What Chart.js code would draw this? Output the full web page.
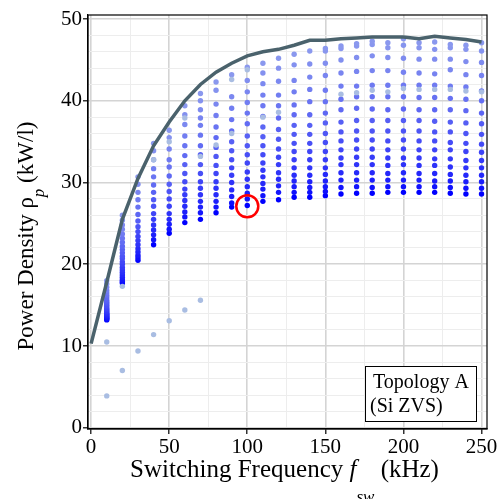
<!DOCTYPE html>
<html>
<head>
<meta charset="utf-8">
<script src="https://cdn.jsdelivr.net/npm/chart.js@4.4.1/dist/chart.umd.min.js"></script>
<style>
  html, body { margin: 0; padding: 0; background: #fff; }
  #wrap { width: 502px; height: 499px; }
</style>
</head>
<body>
<div id="wrap"><canvas id="myChart" width="502" height="499"></canvas></div>
<script>
// Switching frequencies of the design sweep (kHz)
const freqs = [10, 20, 30, 40, 50, 60, 70, 80, 90, 100, 110, 120, 130, 140, 150, 160, 170, 180, 190, 200, 210, 220, 230, 240, 250];

// Power density of every design at each frequency (kW/l)
const rho10 = [13.2, 13.3, 13.4, 13.5, 13.6, 13.7, 13.8, 13.9, 14.0, 14.15, 14.3, 14.45, 14.6, 14.8, 15.0, 15.2, 15.4, 15.6, 15.9, 16.2, 16.5, 16.8, 17.2, 17.6, 18.0];
const rho20 = [17.7, 17.9, 18.1, 18.4, 18.7, 19.0, 19.3, 19.6, 20.0, 20.3, 20.7, 21.0, 21.4, 21.8, 22.2, 22.7, 23.2, 23.7, 24.3, 24.8, 25.4, 26.0];
const rho30 = [20.5, 20.8, 21.1, 21.5, 21.9, 22.4, 22.9, 23.4, 24.0, 24.6, 25.3, 26.1, 27.0, 27.9, 28.8, 29.8, 30.7];
const rho40 = [22.4, 23.0, 23.6, 24.2, 24.8, 25.5, 26.2, 27.1, 27.9, 28.8, 29.7, 30.7, 31.7, 32.8, 33.9, 34.8];
const rho50 = [23.8, 24.3, 24.9, 25.5, 26.2, 27.1, 28.0, 28.9, 29.8, 30.8, 31.9, 32.8, 34.1, 35.5, 36.4];
const rho60 = [25.1, 25.8, 26.4, 27.1, 27.8, 28.5, 29.2, 30.1, 31.1, 32.2, 33.3, 34.5, 35.7, 37.1, 38.3, 39.4];
const rho70 = [25.5, 26.3, 27.0, 27.7, 28.5, 29.3, 30.1, 31.1, 32.2, 33.4, 34.5, 35.8, 37.0, 37.9, 38.9, 40.0, 40.9];
const rho80 = [26.3, 27.0, 27.7, 28.5, 29.3, 30.1, 31.1, 32.1, 33.2, 34.3, 35.5, 36.8, 38.2, 39.6, 41.3, 42.3];
const rho90 = [27.0, 27.5, 28.3, 29.1, 30.0, 30.9, 31.8, 32.8, 33.9, 35.0, 36.3, 37.7, 39.1, 40.5, 43.2];
const rho100 = [27.2, 28.0, 28.7, 29.5, 30.4, 31.3, 32.4, 33.4, 34.5, 35.7, 37.2, 38.5, 39.8, 41.1, 42.5, 44.1];
const rho110 = [27.7, 28.4, 29.2, 29.9, 30.7, 31.5, 32.4, 33.4, 34.5, 35.6, 36.8, 38.1, 39.4, 40.7, 42.1, 43.4, 44.6];
const rho120 = [27.9, 28.8, 29.6, 30.4, 31.2, 32.2, 33.1, 34.1, 35.3, 36.5, 37.9, 39.4, 40.7, 42.4, 44.0, 45.2];
const rho130 = [28.2, 28.8, 29.5, 30.2, 30.9, 31.8, 32.8, 33.8, 34.8, 35.9, 37.0, 38.3, 39.5, 41.1, 42.5, 44.4, 45.7];
const rho140 = [28.2, 28.8, 29.4, 30.1, 30.9, 31.8, 32.8, 33.8, 34.8, 35.9, 37.0, 38.3, 39.9, 41.4, 42.9, 44.5, 46.1];
const rho150 = [28.4, 28.9, 29.5, 30.2, 31.0, 31.8, 32.8, 33.8, 34.9, 36.0, 37.3, 38.5, 39.9, 41.3, 43.1, 44.6, 46.1, 46.4];
const rho160 = [28.6, 29.4, 30.3, 31.2, 32.2, 33.0, 34.0, 35.1, 36.2, 37.4, 38.9, 40.2, 41.8, 43.4, 45.0, 46.4, 46.7];
const rho170 = [28.7, 29.5, 30.3, 31.2, 32.2, 33.1, 34.1, 35.2, 36.3, 37.6, 39.1, 40.5, 41.8, 43.6, 45.3, 46.7, 47.0];
const rho180 = [28.7, 29.4, 30.3, 31.2, 32.2, 33.1, 34.1, 35.2, 36.3, 37.6, 39.0, 40.5, 41.9, 43.7, 45.5, 46.9, 47.3];
const rho190 = [28.8, 29.5, 30.3, 31.1, 32.1, 33.0, 34.0, 35.1, 36.3, 37.6, 38.9, 40.5, 41.9, 43.7, 45.3, 46.5, 47.1];
const rho200 = [28.8, 29.5, 30.3, 31.2, 32.2, 33.0, 34.1, 35.2, 36.3, 37.6, 39.0, 40.5, 41.9, 43.5, 45.2, 46.8, 47.6];
const rho210 = [28.8, 29.5, 30.3, 31.1, 32.1, 33.0, 34.0, 35.1, 36.3, 37.6, 38.9, 40.4, 41.9, 43.4, 45.1, 46.5, 47.1];
const rho220 = [28.8, 29.5, 30.2, 31.1, 32.1, 32.9, 34.0, 35.1, 36.2, 37.5, 38.9, 40.4, 41.9, 43.3, 45.1, 46.3, 47.2];
const rho230 = [28.7, 29.4, 30.2, 31.0, 31.9, 32.9, 34.0, 34.9, 36.2, 37.4, 38.9, 40.3, 41.8, 43.8, 45.1, 46.5, 46.9];
const rho240 = [28.6, 29.3, 30.1, 30.9, 31.8, 32.7, 33.8, 34.8, 36.0, 37.3, 38.8, 40.2, 41.7, 43.2, 44.8, 46.3, 46.8];
const rho250 = [28.6, 29.3, 30.1, 30.9, 31.8, 32.7, 33.7, 34.7, 35.9, 37.2, 38.5, 40.0, 41.2, 43.1, 44.7, 46.1, 47.1];
const rhoByFreq = [rho10, rho20, rho30, rho40, rho50, rho60, rho70, rho80, rho90, rho100, rho110, rho120, rho130,
  rho140, rho150, rho160, rho170, rho180, rho190, rho200, rho210, rho220, rho230, rho240, rho250];

// Greyed-out designs
const greyF = [10, 10, 20, 30, 40, 50, 60, 70, 20, 40, 50, 60, 70, 80, 90, 90, 100, 110, 120, 160, 170, 180, 190, 200, 210, 220, 230, 240, 250];
const greyRho = [10.5, 3.9, 7.0, 9.4, 11.4, 13.1, 14.4, 15.6, 17.3, 32.8, 35.0, 37.9, 33.2, 34.6, 42.6, 36.0, 43.8, 38.0, 38.6, 40.8, 41.0, 41.3, 41.1, 41.5, 41.4, 41.4, 41.4, 41.2, 41.1];

// Pareto front (max power density)
const frontF = [0, 10, 20, 30, 40, 50, 60, 70, 80, 90, 100, 110, 120, 130, 140, 150, 160, 170, 180, 190, 200, 210, 220, 230, 240, 250];
const frontRho = [10.3, 17.8, 25.5, 30.5, 34.5, 37.4, 40.0, 42.0, 43.5, 44.6, 45.5, 46.0, 46.3, 46.8, 47.4, 47.4, 47.6, 47.7, 47.8, 47.8, 47.8, 47.6, 47.9, 47.7, 47.5, 47.2];

// Selected design
const markF = [100];
const markRho = [27.1];

// Axis tick labels
const xTicks = [0, 50, 100, 150, 200, 250];
const yTicks = [0, 10, 20, 30, 40, 50];

const serif = "'Liberation Serif', 'Times New Roman', serif";

// build point lists
let designPts = [];
freqs.forEach((f, i) => rhoByFreq[i].forEach(r => designPts.push({x: f, y: r})));
let greyPts = greyF.map((f, i) => ({x: f, y: greyRho[i]}));
let frontPts = frontF.map((f, i) => ({x: f, y: frontRho[i]}));
let markPts = markF.map((f, i) => ({x: f, y: markRho[i]}));

// colour goes from pure blue (bottom of a column) to pale blue (top)
let colRange = {};
freqs.forEach((f, i) => {
  colRange[f] = [Math.min(...rhoByFreq[i]), Math.max(...rhoByFreq[i])];
});
function dotColor(c) {
  let p = c.raw;
  if (!p) return '#0000ff';
  let r = colRange[p.x];
  let t = (p.y - r[0]) / (r[1] - r[0]);
  t = Math.pow(t, 0.65);
  return 'rgb(' + Math.round(138 * t) + ',' + Math.round(152 * t) + ',' + Math.round(255 - 17 * t) + ')';
}

// draws frame, axis titles and the topology label
const decor = {
  id: 'decor',
  afterDraw(chart) {
    const c = chart.ctx;
    const a = chart.chartArea;
    c.save();
    c.strokeStyle = '#000';
    c.lineWidth = 1.2;
    c.strokeRect(a.left, a.top, a.right - a.left, a.bottom - a.top);

    c.fillStyle = '#000';
    c.textBaseline = 'alphabetic';
    c.textAlign = 'left';

    // x title: Switching Frequency f_sw (kHz)
    let big = '25px ' + serif, it = 'italic 25px ' + serif, sub = 'italic 17px ' + serif;
    let parts = [['Switching Frequency ', big, 0], ['f', it, 0], ['sw', sub, 25], [' (kHz)', big, 0]];
    let w = 0;
    parts.forEach(p => { c.font = p[1]; w += c.measureText(p[0]).width; });
    let x = (a.left + a.right) / 2 - w / 2 - 3;
    parts.forEach(p => {
      c.font = p[1];
      c.fillText(p[0], x, 477 + p[2]);
      x += c.measureText(p[0]).width;
    });

    // y title: Power Density rho_p (kW/l)
    big = '23px ' + serif; sub = 'italic 17px ' + serif;
    parts = [['Power Density \u03c1', big, 0], ['p', sub, 11], [' (kW/l)', big, 0]];
    w = 0;
    parts.forEach(p => { c.font = p[1]; w += c.measureText(p[0]).width; });
    c.translate(33, (a.top + a.bottom) / 2 + 14);
    c.rotate(-Math.PI / 2);
    x = -w / 2;
    parts.forEach(p => {
      c.font = p[1];
      c.fillText(p[0], x, p[2]);
      x += c.measureText(p[0]).width;
    });
    c.setTransform(1, 0, 0, 1, 0, 0);

    // label box
    let bx = a.right - 122, by = a.bottom - 63, bw = 111, bh = 55;
    c.fillStyle = '#fff';
    c.fillRect(bx, by, bw, bh);
    c.strokeStyle = '#000';
    c.lineWidth = 1;
    c.strokeRect(bx + 0.5, by + 0.5, bw, bh);
    c.fillStyle = '#000';
    c.font = '20px ' + serif;
    c.fillText('Topology A', bx + 8, by + 22);
    c.fillText('(Si ZVS)', bx + 5, by + 46);
    c.restore();
  }
};

let ctx = document.getElementById('myChart').getContext('2d');

new Chart(ctx, {
  type: 'scatter',
  data: {
    datasets: [
      {
        label: 'selected',
        data: markPts,
        order: 0,
        pointRadius: 11,
        pointBackgroundColor: 'rgba(0,0,0,0)',
        pointBorderColor: '#ff0000',
        pointBorderWidth: 2.5
      },
      {
        label: 'front',
        type: 'line',
        data: frontPts,
        order: 1,
        borderColor: '#4a626c',
        borderWidth: 3.5,
        pointRadius: 0,
        tension: 0,
        fill: false
      },
      {
        label: 'grey',
        data: greyPts,
        order: 2,
        pointRadius: 2.7,
        pointBackgroundColor: '#a9bde2',
        pointBorderWidth: 0
      },
      {
        label: 'designs',
        data: designPts,
        order: 3,
        pointRadius: 2.7,
        pointBackgroundColor: dotColor,
        pointBorderWidth: 0
      }
    ]
  },
  options: {
    responsive: false,
    animation: false,
    layout: { padding: { top: 15, right: 15, left: 0, bottom: 0 } },
    plugins: { legend: { display: false }, tooltip: { enabled: false } },
    scales: {
      x: {
        type: 'linear',
        min: -2,
        max: 253.5,
        afterFit: s => { s.height = 70; },
        border: { display: true, color: '#000', width: 1.2 },
        grid: {
          color: c => (c.tick && c.tick.value % 50 === 0) ? '#d4d4d4' : '#ededed',
          lineWidth: c => (c.tick && c.tick.value % 50 === 0) ? 1.6 : 1,
          tickColor: c => (c.tick && c.tick.value % 50 === 0) ? '#000' : 'rgba(0,0,0,0)',
          tickLength: 5,
          tickWidth: 1.2
        },
        ticks: {
          stepSize: 25,
          includeBounds: false,
          autoSkip: false,
          maxRotation: 0,
          padding: 1,
          color: '#000',
          font: { family: serif, size: 21 },
          callback: v => xTicks.includes(v) ? String(v) : ''
        }
      },
      y: {
        type: 'linear',
        min: -0.15,
        max: 50.5,
        afterFit: s => { s.width = 88; },
        border: { display: true, color: '#000', width: 1.2 },
        grid: {
          color: c => (c.tick && c.tick.value % 10 === 0) ? '#d4d4d4' : '#ededed',
          lineWidth: c => (c.tick && c.tick.value % 10 === 0) ? 1.6 : 1,
          tickColor: c => (c.tick && c.tick.value % 10 === 0) ? '#000' : 'rgba(0,0,0,0)',
          tickLength: 5,
          tickWidth: 1.2
        },
        ticks: {
          stepSize: 2,
          includeBounds: false,
          autoSkip: false,
          padding: 1,
          color: '#000',
          font: { family: serif, size: 21 },
          callback: v => yTicks.includes(v) ? String(v) : ''
        }
      }
    }
  },
  plugins: [decor]
});
</script>
</body>
</html>
